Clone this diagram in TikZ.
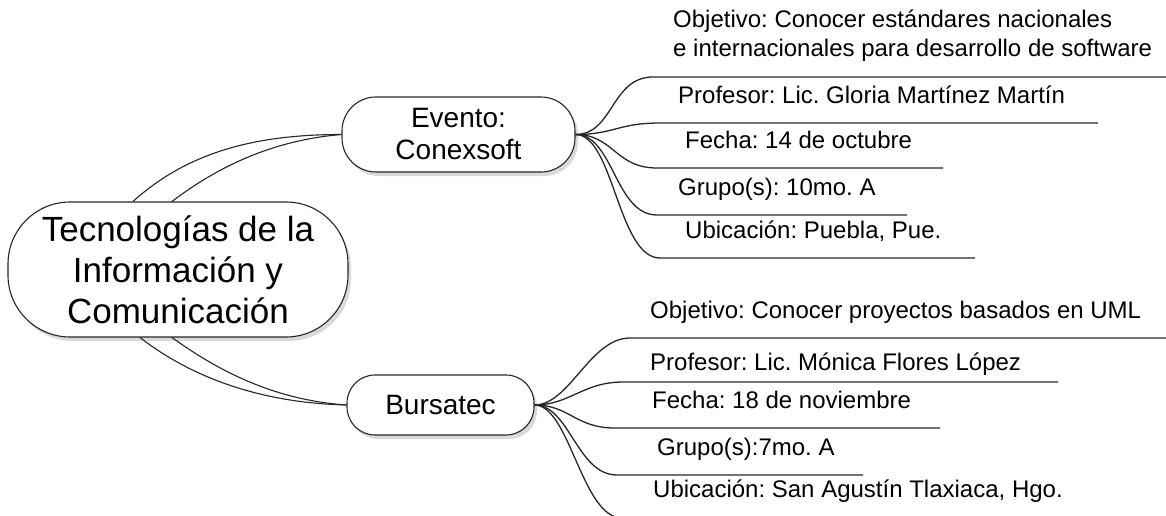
\documentclass[tikz,border=0pt]{standalone}
\usepackage{fontspec}
\setmainfont{Liberation Sans}
\usetikzlibrary{shadows}
\frenchspacing
\begin{document}
\begin{tikzpicture}[x=1pt,y=-1pt,
  topicbox/.style={draw=black!85, line width=1.1pt, fill=white, align=center, inner sep=0pt,
    drop shadow={shadow xshift=3pt, shadow yshift=-4pt, opacity=0.3}},
  branch/.style={draw=black!85, line width=1.1pt},
  leafline/.style={draw=black!85, line width=1.3pt},
  leaftext/.style={anchor=base west, inner sep=0pt, font=\fontsize{24}{28}\selectfont},
]
\useasboundingbox (0,0) rectangle (1166,516);

% topics
\node[topicbox, rounded corners=62pt, minimum width=340pt, minimum height=135pt,
      font=\fontsize{35}{41}\selectfont] (root) at (178,269.5)
      {Tecnologías de la\\Información y\\Comunicación};
\node[topicbox, rounded corners=34pt, minimum width=233pt, minimum height=75pt,
      font=\fontsize{28}{32}\selectfont] (ev) at (458.5,134.5) {Evento:\\Conexsoft};
\node[topicbox, rounded corners=28pt, minimum width=187pt, minimum height=60pt,
      font=\fontsize{28}{32}\selectfont] (bu) at (440.5,405) {Bursatec};

% main branches
\draw[branch] ([xshift=-45pt]root.north) .. controls (190,150) and (260,134.5) .. (ev.west);
\draw[branch] ([xshift=-6pt]root.north) .. controls (220,165) and (275,140) .. (ev.west);
\draw[branch] ([xshift=-38pt]root.south) .. controls (195,380) and (265,403) .. (bu.west);
\draw[branch] ([xshift=-6pt]root.south) .. controls (220,372) and (275,400) .. (bu.west);

% Conexsoft subtopics
\foreach \n/\ys/\xs/\xe in {1/77/653/1190, 2/123/660/1098, 3/168/657/943, 4/215/657/907, 5/258/660/975} {
  \coordinate (ea\n) at (\xs,\ys);
  \coordinate (eb\n) at (\xe,\ys);
  \draw[leafline] (ev.east) .. controls +(38,0) and +(-42,0) .. (ea\n) -- (eb\n);
}
\node[leaftext] (e1a) at (673,28) {Objetivo: Conocer estándares nacionales};
\node[leaftext] (e1b) at (673,57) {e internacionales para desarrollo de software};
\node[leaftext] (e2) at (678,104) {Profesor: Lic. Gloria Martínez Martín};
\node[leaftext] (e3) at (685,148) {Fecha: 14 de octubre};
\node[leaftext] (e4) at (678,195) {Grupo(s): 10mo. A};
\node[leaftext] (e5) at (685,238) {Ubicación: Puebla, Pue.};

% Bursatec subtopics
\foreach \n/\ys/\xs/\xe in {1/338/630/1190, 2/382/623/1058, 3/428/615/940, 4/475/617/863, 5/518/622/1098} {
  \coordinate (ba\n) at (\xs,\ys);
  \coordinate (bb\n) at (\xe,\ys);
  \draw[leafline] (bu.east) .. controls +(35,0) and +(-40,0) .. (ba\n) -- (bb\n);
}
\node[leaftext] (b1) at (650,318) {Objetivo: Conocer proyectos basados en UML};
\node[leaftext] (b2) at (650,370) {Profesor: Lic. Mónica Flores López};
\node[leaftext] (b3) at (652,408) {Fecha: 18 de noviembre};
\node[leaftext] (b4) at (657,455) {Grupo(s):7mo. A};
\node[leaftext] (b5) at (653,497) {Ubicación: San Agustín Tlaxiaca, Hgo.};
\end{tikzpicture}
\end{document}
